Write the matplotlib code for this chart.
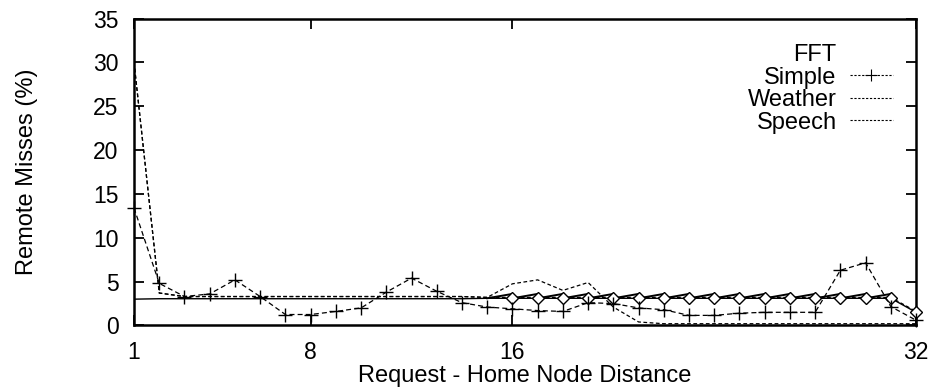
import matplotlib
matplotlib.use("Agg")
import matplotlib.pyplot as plt
import numpy as np
from matplotlib.lines import Line2D

plt.rcParams["font.family"] = ["Liberation Sans", "DejaVu Sans"]

# distance between requesting node and home node
distance = np.arange(1, 33)

fft = [3.0, 3.05, 3.05, 3.05, 3.05, 3.05, 3.05, 3.05, 3.05, 3.05, 3.05, 3.05, 3.05, 3.05, 3.1,
       3.1, 3.1, 3.1, 3.1, 3.1, 3.1, 3.1, 3.1, 3.1, 3.1, 3.1, 3.1, 3.1, 3.1, 3.1, 3.1, 1.5]
# upper end of each sawtooth stroke in the FFT trace (x = 16..31)
fft_peak = [3.6, 3.6, 3.6, 3.6, 3.6, 3.6, 3.6, 3.6, 3.6, 3.6, 3.6, 3.6, 3.6, 3.6, 3.6, 3.6]

simple = [13.4, 4.8, 3.3, 3.6, 5.2, 3.3, 1.25, 1.25, 1.6, 2.0, 3.8, 5.4, 3.9, 2.6, 2.1,
          1.9, 1.7, 1.6, 2.6, 2.5, 2.0, 1.8, 1.15, 1.15, 1.4, 1.5, 1.5, 1.5, 6.3, 7.15, 2.15, 0.6]
weather = [30.0, 3.7, 3.3, 3.3, 3.3, 3.3, 3.3, 3.3, 3.3, 3.3, 3.3, 3.3, 3.3, 3.3, 3.2,
           3.2, 3.2, 3.2, 3.2, 3.2, 3.2, 3.2, 3.2, 3.2, 3.2, 3.2, 3.2, 3.2, 3.2, 3.2, 3.2, 1.6]
speech = [30.0, 3.7, 3.3, 3.3, 3.3, 3.3, 3.3, 3.3, 3.3, 3.3, 3.3, 3.3, 3.3, 3.3, 3.2,
          4.75, 5.2, 4.0, 4.9, 2.1, 0.4, 0.2, 0.2, 0.2, 0.2, 0.2, 0.2, 0.2, 0.2, 0.2, 0.2, 0.2]

x_ticks = [1, 8, 16, 32]
y_ticks = [0, 5, 10, 15, 20, 25, 30, 35]


def sawtooth(xs, lows, peaks):
    # each stroke rises from one diamond to the top of the next, then drops back
    px, py = [], []
    for i in range(len(peaks)):
        px += [xs[i], xs[i + 1], xs[i + 1]]
        py += [lows[i], peaks[i], lows[i + 1]]
    return px, py


fig = plt.figure(figsize=(9.32, 3.87), dpi=100)
ax = fig.add_axes([0.1438, 0.159, 0.8391, 0.793])

saw_x, saw_y = sawtooth(list(distance[14:]), fft[14:], fft_peak)
ax.plot(saw_x, saw_y, color="black", linewidth=1.4, zorder=3)
ax.plot(distance, fft, color="black", linewidth=1.0, zorder=3)
ax.plot(distance[15:], fft[15:], linestyle="none", marker="D", markersize=6,
        markerfacecolor="white", markeredgecolor="black", markeredgewidth=1.0,
        clip_on=False, zorder=4)

ax.plot(distance, simple, color="black", linewidth=0.9, dashes=(4, 2.5),
        marker="+", markersize=10, markeredgewidth=1.0, clip_on=False, zorder=5)
ax.plot(distance, weather, color="black", linewidth=0.9, dashes=(3, 2), zorder=2)
ax.plot(distance, speech, color="black", linewidth=0.9, dashes=(3, 2), zorder=2)

ax.set_xlim(1, 32)
ax.set_ylim(0, 35)
ax.set_xticks(x_ticks)
ax.set_yticks(y_ticks)
ax.tick_params(direction="in", length=7, width=1.3, labelsize=16.5,
               top=True, right=True)
ax.tick_params(axis="x", pad=11)
ax.tick_params(axis="y", pad=11)
for side in ax.spines.values():
    side.set_linewidth(1.8)

ax.set_xlabel("Request - Home Node Distance", fontsize=17, labelpad=1)
ax.set_ylabel("Remote Misses (%)", fontsize=17, labelpad=40)

handles = [
    Line2D([], [], color="none"),
    Line2D([], [], color="black", linewidth=0.8, dashes=(2, 1.5), marker="+",
           markersize=9, markeredgewidth=0.8),
    Line2D([], [], color="black", linewidth=0.8, dashes=(2, 1.5)),
    Line2D([], [], color="black", linewidth=0.8, dashes=(2, 1.5)),
]
ax.legend(handles, ["FFT", "Simple", "Weather", "Speech"], loc="upper right",
          bbox_to_anchor=(0.983, 0.947), frameon=False, markerfirst=False,
          fontsize=17, handlelength=1.85, handletextpad=0.55, labelspacing=0.02,
          borderaxespad=0)

fig.savefig("out.png", dpi=100)
